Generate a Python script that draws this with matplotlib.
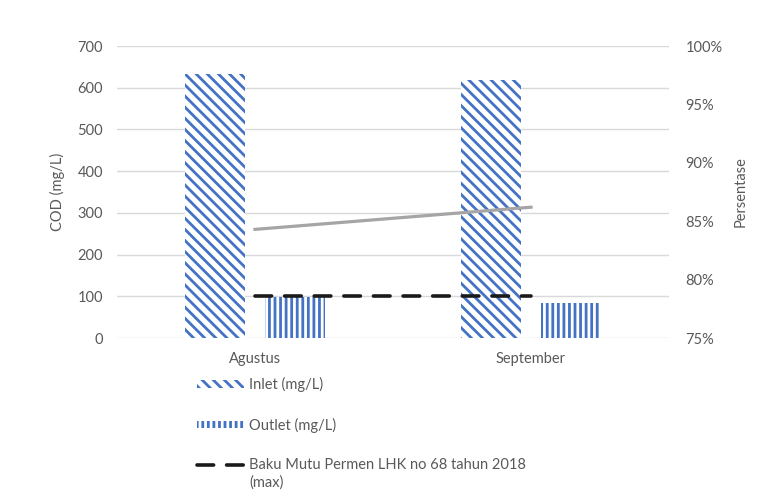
import numpy as np
import matplotlib
matplotlib.use("Agg")
import matplotlib.pyplot as plt
import matplotlib.ticker as mticker
from matplotlib.patches import Patch
from matplotlib.lines import Line2D

months = ["Agustus", "September"]
inlet = [632, 618]
outlet = [98, 84]
baku_mutu = [100, 100]
persen = [0.843, 0.862]

plt.rcParams["font.family"] = ["Lato", "DejaVu Sans"]
plt.rcParams["hatch.linewidth"] = 2.0

blue = "#4472C4"
txt = "#595959"

fig = plt.figure(figsize=(7.79, 4.99), dpi=100)
ax = fig.add_axes([117/779, 1 - 338/499, 552/779, 292/499])

x = np.arange(len(months))
w = 0.22
ax.bar(x - 0.145, inlet, w, facecolor="white", edgecolor=blue, hatch="\\\\\\", linewidth=0, zorder=2)
ax.bar(x + 0.145, outlet, w, facecolor="white", edgecolor=blue, hatch="|||", linewidth=0, zorder=2)
ax.plot(x, baku_mutu, color="#1a1a1a", lw=2.6, dashes=(4.6, 3.6), dash_capstyle="round", zorder=3)

ax.set_xlim(-0.5, 1.5)
ax.set_ylim(0, 700)
ax.set_yticks(range(0, 701, 100))
ax.set_xticks(x)
ax.set_xticklabels(months)
ax.grid(axis="y", color="#D9D9D9", lw=1, zorder=0)
ax.set_axisbelow(True)
for s in ax.spines.values():
    s.set_visible(False)
ax.tick_params(length=0, colors=txt, labelsize=10.5, pad=10)
ax.tick_params(axis="x", pad=10)
ax.set_ylabel("COD (mg/L)", color=txt, fontsize=10.5, labelpad=9)

ax2 = ax.twinx()
ax2.plot(x, persen, color="#A5A5A5", lw=2.3, zorder=3)
ax2.set_ylim(0.75, 1.0)
ax2.set_yticks(np.arange(0.75, 1.001, 0.05))
ax2.yaxis.set_major_formatter(mticker.FuncFormatter(lambda v, _: f"{v*100:.0f}%"))
for s in ax2.spines.values():
    s.set_visible(False)
ax2.tick_params(length=0, colors=txt, labelsize=10.5, pad=12)
ax2.set_ylabel("Persentase", color=txt, fontsize=10.5, labelpad=8)

handles = [
    Patch(facecolor="white", edgecolor=blue, hatch="\\\\\\", linewidth=0),
    Patch(facecolor="white", edgecolor=blue, hatch="|||", linewidth=0),
    Line2D([], [], color="#1a1a1a", lw=2.6, dashes=(4.6, 3.6), dash_capstyle="round"),
]
labels = ["Inlet (mg/L)", "Outlet (mg/L)", "Baku Mutu Permen LHK no 68 tahun 2018"]
leg = fig.legend(handles, labels, loc="upper left", bbox_to_anchor=(197/779, 1 - 377/499),
                 frameon=False, fontsize=10.5, labelcolor=txt, handlelength=3.2,
                 handleheight=0.4, handletextpad=0.35, labelspacing=1.75, borderpad=0,
                 borderaxespad=0)
fig.text(249/779, 1 - 483/499, "(max)", color=txt, fontsize=10.5, va="center")

fig.savefig("out.png", dpi=100)
